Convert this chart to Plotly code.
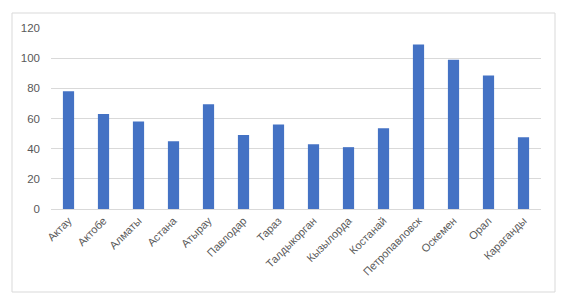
import plotly.graph_objects as go

categories = ["Актау", "Актобе", "Алматы", "Астана", "Атырау", "Павлодар", "Тараз",
              "Талдыкорган", "Кызылорда", "Костанай", "Петропавловск", "Оскемен",
              "Орал", "Караганды"]
values = [78, 63, 58, 45, 69.5, 49, 56, 43, 41, 53.5, 109, 99, 88.5, 47.5]
y_ticks = [0, 20, 40, 60, 80, 100, 120]

W, H = 568, 308
L, R, T, B = 51, 27, 28, 99
pw, ph = W - L - R, H - T - B

def px_x(x):
    return (x - L) / pw

def px_y(y):
    return (H - B - y) / ph

fig = go.Figure()
fig.add_trace(go.Bar(x=categories, y=values, marker=dict(color="#4472C4", line=dict(width=0)),
                     width=0.32))

font_family = "Liberation Sans, Arial, sans-serif"
fig.update_layout(
    width=W, height=H,
    margin=dict(l=L, r=R, t=T, b=B),
    paper_bgcolor="white", plot_bgcolor="white",
    showlegend=False,
    font=dict(family=font_family, size=11, color="#595959"),
    xaxis=dict(tickangle=-45, showgrid=False, showline=True, linecolor="#d9d9d9",
               linewidth=1, ticks="", tickfont=dict(size=11, color="#595959")),
    yaxis=dict(range=[0, 120], tickvals=y_ticks, showgrid=True, gridcolor="#d9d9d9",
               gridwidth=1, zeroline=False, showline=False, ticks="",
               ticklabelstandoff=10, tickfont=dict(size=11.5, color="#595959")),
    shapes=[dict(type="rect", xref="paper", yref="paper",
                 x0=px_x(12), x1=px_x(555), y0=px_y(292), y1=px_y(13),
                 line=dict(color="#d9d9d9", width=1), fillcolor="rgba(0,0,0,0)", layer="below")],
)

fig.write_html("out.html")
